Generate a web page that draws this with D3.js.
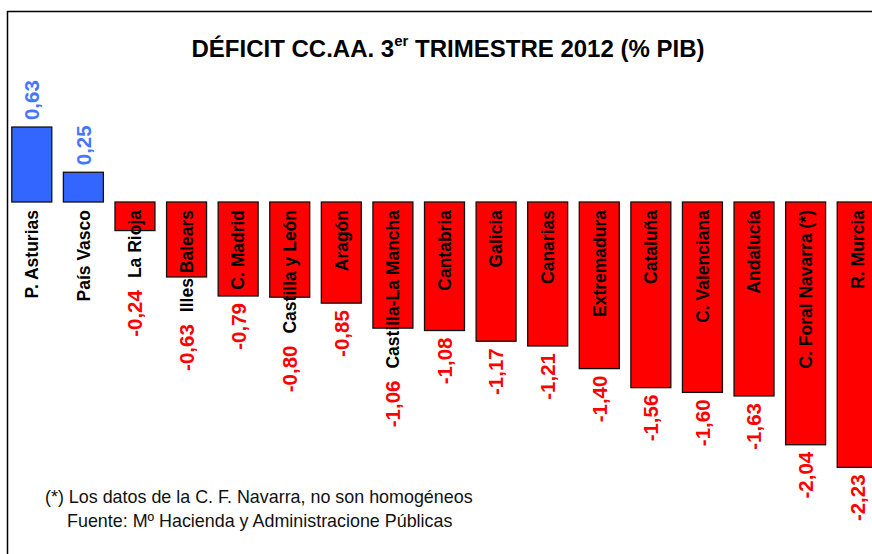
<!DOCTYPE html>
<html>
<head>
<meta charset="utf-8">
<script src="https://cdn.jsdelivr.net/npm/d3@7"></script>
<style>
  body { margin: 0; background: #fff; }
  svg { font-family: "Liberation Sans", Arial, sans-serif; }
</style>
</head>
<body>
<svg id="chart" width="872" height="554"></svg>
<script>
// datos del gráfico
var regions = ["P. Asturias", "País Vasco", "La Rioja", "Illes Balears", "C. Madrid",
    "Castilla y León", "Aragón", "Castilla-La Mancha", "Cantabria", "Galicia",
    "Canarias", "Extremadura", "Cataluña", "C. Valenciana", "Andalucía",
    "C. Foral Navarra (*)", "R. Murcia"];
var deficit = [0.63, 0.25, -0.24, -0.63, -0.79, -0.80, -0.85, -1.06, -1.08, -1.17,
    -1.21, -1.40, -1.56, -1.60, -1.63, -2.04, -2.23];
var notes = ["(*) Los datos de la C. F. Navarra, no son homogéneos",
    "Fuente: Mº Hacienda y Administracione Públicas"];

var data = regions.map((r, i) => ({ name: r, value: deficit[i] }));

var svg = d3.select("#chart");

var fmt = d3.formatLocale({ decimal: ",", thousands: ".", grouping: [3], currency: ["", "€"], minus: "-" }).format(".2f");

// marco
svg.append("rect")
    .attr("x", 7.5).attr("y", 11.5)
    .attr("width", 900).attr("height", 600)
    .attr("fill", "none")
    .attr("stroke", "#000")
    .attr("stroke-width", 1.5);

var x = d3.scaleBand()
    .domain(regions)
    .range([6, 883])
    .paddingInner(0.225)
    .paddingOuter(0.1125);

var y = d3.scaleLinear()
    .domain([-2.5, 1])
    .range([499.5, 83]);

// titulo
var title = svg.append("text")
    .attr("x", 448).attr("y", 57)
    .attr("text-anchor", "middle")
    .attr("font-size", 24)
    .attr("font-weight", "bold");
title.append("tspan").text("DÉFICIT CC.AA. 3");
title.append("tspan").attr("font-size", 15).attr("dy", -11).text("er");
title.append("tspan").attr("dy", 11).text(" TRIMESTRE 2012 (% PIB)");

// barras
svg.selectAll("rect.bar")
    .data(data).enter()
    .append("rect")
    .attr("class", "bar")
    .attr("x", d => x(d.name))
    .attr("width", x.bandwidth())
    .attr("y", d => y(Math.max(0, d.value)))
    .attr("height", d => Math.abs(y(d.value) - y(0)))
    .attr("fill", d => d.value >= 0 ? "#3366ff" : "#ff0000")
    .attr("stroke", "#111")
    .attr("stroke-width", 1.3);

var labelTop = y(0) + 8;

// nombres
var names = svg.selectAll("text.name")
    .data(data).enter()
    .append("text")
    .attr("class", "name")
    .attr("transform", d => "translate(" + (x(d.name) + x.bandwidth() / 2) + "," + labelTop + ") rotate(-90)")
    .attr("dy", "0.36em")
    .attr("text-anchor", "end")
    .attr("font-size", 17.5)
    .attr("font-weight", "bold")
    .attr("fill", "#000")
    .text(d => d.name);

names.each(function(d) { d.nameEnd = labelTop + this.getComputedTextLength(); });

// valores
svg.selectAll("text.value")
    .data(data).enter()
    .append("text")
    .attr("class", "value")
    .attr("transform", d => {
        var cx = x(d.name) + x.bandwidth() / 2;
        var yy = d.value >= 0 ? y(d.value) - 7 : Math.max(y(d.value) + 7, d.nameEnd + 12);
        return "translate(" + cx + "," + yy + ") rotate(-90)";
    })
    .attr("dy", "0.36em")
    .attr("text-anchor", d => d.value >= 0 ? "start" : "end")
    .attr("font-size", 20.5)
    .attr("font-weight", "bold")
    .attr("fill", d => d.value >= 0 ? "#4477ff" : "#ff0000")
    .text(d => fmt(d.value));

// notas
svg.selectAll("text.note")
    .data(notes).enter()
    .append("text")
    .attr("class", "note")
    .attr("x", (d, i) => i == 0 ? 45 : 67)
    .attr("y", (d, i) => 503 + i * 24)
    .attr("font-size", 17.9)
    .attr("fill", "#111")
    .text(d => d);
</script>
</body>
</html>
